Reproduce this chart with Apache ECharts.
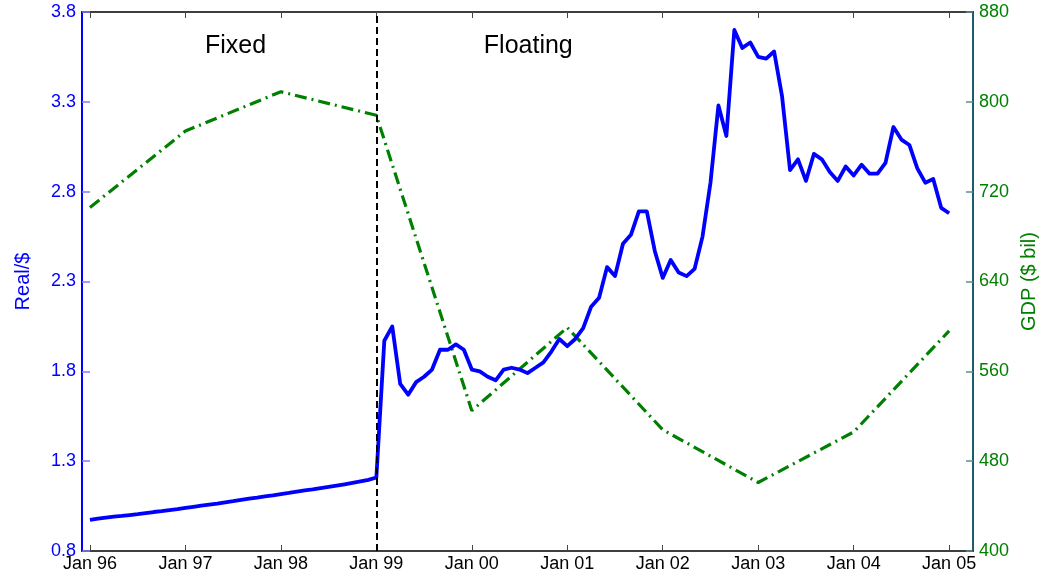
<!DOCTYPE html>
<html>
<head>
<meta charset="utf-8">
<script src="https://cdn.jsdelivr.net/npm/echarts@6/dist/echarts.min.js"></script>
<style>
  html, body { margin: 0; padding: 0; background: #ffffff; }
  #chart { width: 1049px; height: 573px; }
</style>
</head>
<body>
<div id="chart"></div>
<script>
// Month index 0 = Jan 1996; one tick per January
const tickLabels = ['Jan 96', 'Jan 97', 'Jan 98', 'Jan 99', 'Jan 00', 'Jan 01', 'Jan 02', 'Jan 03', 'Jan 04', 'Jan 05'];
const tickMonths = [0, 12, 24, 36, 48, 60, 72, 84, 96, 108];

// Real per US dollar, monthly, crawling-peg period Jan 96 .. Jan 99
const realFixed = [
  0.973, 0.980, 0.986, 0.991, 0.995, 1.000, 1.005, 1.011, 1.017, 1.022, 1.028, 1.033,
  1.040, 1.046, 1.052, 1.058, 1.064, 1.071, 1.077, 1.084, 1.091, 1.097, 1.104, 1.110,
  1.117, 1.123, 1.130, 1.137, 1.143, 1.150, 1.157, 1.164, 1.171, 1.179, 1.187, 1.196,
  1.209
];

// Real per US dollar, monthly, floating period Feb 99 .. Jan 05
const realFloating = [
  1.97, 2.05, 1.73, 1.67, 1.74, 1.77, 1.81, 1.92, 1.92, 1.95, 1.92,
  1.81, 1.80, 1.77, 1.75, 1.81, 1.82, 1.81, 1.79, 1.82, 1.85, 1.91, 1.98,
  1.94, 1.98, 2.04, 2.16, 2.21, 2.38, 2.33, 2.51, 2.56, 2.69, 2.69, 2.47,
  2.32, 2.42, 2.35, 2.33, 2.37, 2.55, 2.85, 3.28, 3.11, 3.70, 3.60, 3.63,
  3.55, 3.54, 3.58, 3.33, 2.92, 2.98, 2.86, 3.01, 2.98, 2.91, 2.86, 2.94,
  2.89, 2.95, 2.90, 2.90, 2.96, 3.16, 3.09, 3.06, 2.93, 2.85, 2.87, 2.71,
  2.68
];

// GDP in billions of US dollars, one value per January tick
const gdpBillions = [706, 774, 809, 788, 525, 599, 508, 461, 506, 596];

// Exchange-rate regime change (month index) and regime captions
const regimeSwitchMonth = 36;
const regimeNames = ['Fixed', 'Floating'];
const regimeCaptionAt = [[18.3, 3.61], [55.1, 3.61]];

const realSeries = realFixed.concat(realFloating).map((v, i) => [i, v]);
const gdpSeries = gdpBillions.map((v, i) => [tickMonths[i], v]);

const BLUE = '#0000ff';
const GREEN = '#008000';
const TEAL = '#1d5c6a';
const TICK_FONT = 'Liberation Sans, Arial, sans-serif';

const chart = echarts.init(document.getElementById('chart'), null, { renderer: 'canvas' });

chart.setOption({
  animation: false,
  backgroundColor: '#ffffff',
  grid: { left: 82, right: 76, top: 12, bottom: 21, containLabel: false },
  xAxis: [
    {
      type: 'value',
      min: -1,
      max: 111,
      position: 'bottom',
      axisLine: { show: true, onZero: false, lineStyle: { color: '#000000', width: 1.5 } },
      axisTick: { show: true, inside: true, length: 6, customValues: tickMonths, lineStyle: { color: '#444444', width: 1 } },
      axisLabel: {
        show: true,
        customValues: tickMonths,
        margin: 4,
        color: '#000000',
        fontFamily: TICK_FONT,
        fontSize: 18,
        formatter: (v) => tickLabels[tickMonths.indexOf(v)] || ''
      },
      splitLine: { show: false }
    },
    {
      type: 'value',
      min: -1,
      max: 111,
      position: 'top',
      axisLine: { show: true, onZero: false, lineStyle: { color: '#000000', width: 1.5 } },
      axisTick: { show: true, inside: true, length: 6, customValues: tickMonths, lineStyle: { color: '#444444', width: 1 } },
      axisLabel: { show: false },
      splitLine: { show: false }
    }
  ],
  yAxis: [
    {
      type: 'value',
      min: 0.8,
      max: 3.8,
      interval: 0.5,
      position: 'left',
      name: 'Real/$',
      nameLocation: 'middle',
      nameGap: 49,
      nameRotate: 90,
      nameTextStyle: { color: BLUE, fontFamily: TICK_FONT, fontSize: 20 },
      axisLine: { show: true, onZero: false, lineStyle: { color: BLUE, width: 2 } },
      axisTick: { show: true, inside: true, length: 8, lineStyle: { color: '#7c7cff', width: 1.5 } },
      axisLabel: { color: BLUE, fontFamily: TICK_FONT, fontSize: 18, margin: 6, formatter: (v) => v.toFixed(1) },
      splitLine: { show: false }
    },
    {
      type: 'value',
      min: 400,
      max: 880,
      interval: 80,
      position: 'right',
      name: 'GDP ($ bil)',
      nameLocation: 'middle',
      nameGap: 46,
      nameRotate: 90,
      nameTextStyle: { color: GREEN, fontFamily: TICK_FONT, fontSize: 20 },
      axisLine: { show: true, onZero: false, lineStyle: { color: TEAL, width: 2 } },
      axisTick: { show: true, inside: true, length: 7, lineStyle: { color: '#5a8c96', width: 1.5 } },
      axisLabel: { color: GREEN, fontFamily: TICK_FONT, fontSize: 18, margin: 6 },
      splitLine: { show: false }
    }
  ],
  series: [
    {
      name: 'GDP',
      type: 'line',
      xAxisIndex: 0,
      yAxisIndex: 1,
      data: gdpSeries,
      showSymbol: false,
      symbol: 'none',
      z: 2,
      lineStyle: { color: GREEN, width: 3.2, type: [12, 5, 2, 5], cap: 'butt' }
    },
    {
      name: 'Real/$',
      type: 'line',
      xAxisIndex: 0,
      yAxisIndex: 0,
      data: realSeries,
      showSymbol: false,
      symbol: 'none',
      z: 3,
      lineStyle: { color: BLUE, width: 3.8, join: 'round' },
      markLine: {
        silent: true,
        symbol: 'none',
        label: { show: false },
        lineStyle: { color: '#000000', width: 2, type: [7, 4] },
        data: [{ xAxis: regimeSwitchMonth }]
      },
      markPoint: {
        silent: true,
        symbol: 'rect',
        symbolSize: 0,
        label: {
          show: true,
          position: 'inside',
          color: '#000000',
          fontFamily: TICK_FONT,
          fontSize: 25,
          formatter: (p) => p.name
        },
        data: regimeNames.map((n, i) => ({ name: n, coord: regimeCaptionAt[i] }))
      }
    }
  ]
});
</script>
</body>
</html>
